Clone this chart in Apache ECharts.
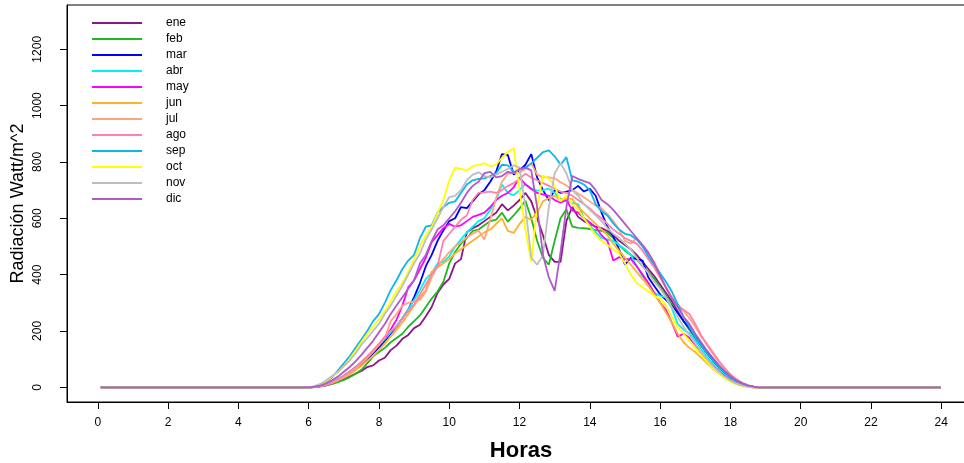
<!DOCTYPE html>
<html><head><meta charset="utf-8">
<script src="https://cdn.jsdelivr.net/npm/echarts@6/dist/echarts.min.js"></script>
<style>html,body{margin:0;padding:0;background:#fff}#c{width:964px;height:463px}</style>
</head><body><div id="c"></div>
<script>
// sample times, minutes of the day
const minutos = [5,
 360,370,380,390,400,410,420,430,440,450,460,470,480,490,500,510,520,530,
 540,550,560,570,580,590,600,610,620,630,640,650,660,670,680,690,700,710,
 720,730,740,750,760,770,780,790,800,810,820,830,840,850,860,870,880,890,
 900,910,920,930,940,950,960,970,980,990,1000,1010,1020,1030,1040,1050,1060,1070,
 1080,1090,1100,1110,1120,1130,1140,
 1439];
const meses = ['ene','feb','mar','abr','may','jun','jul','ago','sep','oct','nov','dic'];
const colores = ['#8B168B','#1CBA1C','#0000FF','#00F2F2','#FF00FF','#FFB02E','#FFA57E','#FF82AB','#0DB5EE','#FFFF00','#BEBEBE','#B05AC8'];
const ticksX = [0,2,4,6,8,10,12,14,16,18,20,22,24];
const ticksY = [0,200,400,600,800,1000,1200];

const ene = [0,
 0,1,3,7,13,20, 28,38,48,58,72,78, 95,105,132,148,172,186, 210,222,252,285,335,365,
 385,440,455,550,565,575, 590,605,620,650,628,645, 665,690,660,600,540,470, 445,445,590,640,605,590,
 580,570,565,555,540,520, 505,490,470,445,420,395, 365,335,305,270,235,205, 175,148,120,95,72,52,
 36,22,12,5,1,0, 0,
 0];
const feb = [0,
 0,1,3,7,12,18, 26,36,48,62,85,110, 125,140,160,175,190,215, 235,255,285,315,340,375,
 440,480,510,530,555,560, 575,590,595,620,588,610, 635,662,600,520,460,435, 520,600,632,570,566,565,
 562,558,555,548,530,505, 485,470,455,430,410,385, 355,325,295,265,235,205, 178,150,122,98,76,56,
 40,26,15,7,2,0, 0,
 0];
const mar = [0,
 0,1,4,9,16,25, 36,50,65,82,100,120, 142,165,190,215,245,275, 320,370,430,470,520,557,
 590,600,640,636,660,685, 700,730,765,828,825,755, 770,790,828,745,700,664, 700,690,695,700,715,695,
 705,680,620,570,535,490, 435,460,455,450,390,360, 330,310,290,265,235,210, 180,155,125,98,72,52,
 36,22,12,5,1,0, 0,
 0];
const abr = [0,
 0,2,6,12,20,30, 42,56,72,90,110,130, 150,172,195,218,245,275, 310,345,385,405,440,445,
 465,500,525,550,570,590, 600,630,665,720,690,682, 700,722,705,698,700,705, 690,670,662,655,650,600,
 575,550,530,525,520,505, 490,470,430,395,370,335, 325,318,280,225,205,192, 165,135,108,84,62,44,
 29,17,8,3,0,0, 0,
 0];
const may = [0,
 0,2,5,10,18,28, 40,54,70,88,108,128, 150,175,205,240,290,355, 380,420,460,515,540,565,
 580,570,575,590,605,612, 620,640,665,680,690,710, 745,720,705,690,685,680, 665,655,665,628,620,600,
 585,568,540,520,450,462, 455,455,430,400,370,335, 300,275,230,180,190,175, 150,122,98,76,56,40,
 26,15,7,2,0,0, 0,
 0];
const jun = [0,
 0,1,4,9,16,24, 34,46,60,76,94,112, 132,155,180,205,230,260, 290,320,345,410,425,440,
 455,475,490,505,520,535, 550,560,580,600,555,548, 580,605,595,620,660,672, 680,665,670,668,640,620,
 600,580,560,540,510,485, 460,435,410,385,360,330, 300,265,230,190,160,140, 125,105,85,66,50,36,
 24,14,7,2,0,0, 0,
 0];
const jul = [0,
 0,1,4,9,16,25, 36,50,66,84,104,126, 150,175,235,260,290,300, 305,310,340,390,430,455,
 480,500,515,533,545,557, 525,595,672,730,758,760, 762,775,795,755,746,745, 742,728,717,700,688,675,
 660,645,635,615,590,560, 520,510,530,505,475,445, 400,350,320,295,270,245, 215,180,155,125,95,68,
 45,28,15,7,2,0, 0,
 0];
const ago = [0,
 0,2,5,11,19,29, 41,55,72,90,110,132, 155,180,200,215,245,270, 295,330,365,400,430,520,
 545,570,595,610,665,690, 692,695,690,700,715,725, 740,758,745,735,725,715, 705,695,690,680,665,650,
 635,615,600,580,560,545, 530,520,510,485,455,425, 390,355,320,290,275,260, 225,185,150,120,92,68,
 46,29,16,7,2,0, 0,
 0];
const sep = [0,
 0,2,8,20,35,60, 85,110,140,170,200,235, 260,300,345,380,420,450, 470,530,570,575,620,640,
 655,660,690,720,735,740, 742,750,760,790,788,765, 770,780,795,815,835,841, 820,790,817,735,730,720,
 700,650,625,610,582,560, 545,540,525,500,465,435, 405,375,340,295,250,215, 178,150,120,96,72,52,
 35,22,12,6,2,0, 0,
 0];
const oct = [0,
 0,3,10,22,38,55, 75,100,130,160,190,215, 240,270,305,340,370,410, 455,500,540,570,618,665,
 735,780,775,770,785,790, 795,785,790,815,835,850, 700,560,445,640,752,740, 715,660,680,650,630,600,
 570,540,520,505,490,475, 440,400,370,355,340,325, 315,290,250,215,190,165, 140,115,90,68,50,33,
 20,10,4,1,0,0, 0,
 0];
const nov = [0,
 0,4,12,25,40,55, 75,95,120,150,175,200, 225,260,290,325,360,400, 440,475,525,560,600,640,
 675,680,700,735,755,763, 750,745,755,765,775,788, 780,640,460,435,470,640, 760,795,760,700,680,650,
 630,610,590,565,545,530, 510,490,460,430,405,375, 350,320,285,250,215,185, 155,125,100,76,55,38,
 24,13,6,2,0,0, 0,
 0];
const dic = [0,
 0,2,6,14,25,38, 55,72,92,115,140,165, 195,225,260,290,320,350, 380,440,470,520,560,575,
 600,625,655,690,715,730, 760,765,745,750,765,760, 775,780,770,640,470,390, 342,480,640,750,740,732,
 725,700,665,650,630,605, 580,555,530,505,478,440, 395,355,315,285,250,225, 190,160,130,105,80,58,
 40,25,14,6,2,0, 0,
 0];

const valores = [ene,feb,mar,abr,may,jun,jul,ago,sep,oct,nov,dic];
const FONT = "'Liberation Sans', Arial, Helvetica, sans-serif";

const chart = echarts.init(document.getElementById('c'), null, {renderer:'canvas'});
const series = meses.map((m,i)=>({
  name:m, type:'line', symbol:'none', showSymbol:false,
  data: valores[i].map((v,k)=>[minutos[k]/60, v]),
  lineStyle:{color:colores[i], width:1.8},
  itemStyle:{color:colores[i]},
  z: 2+i
}));
chart.setOption({
  animation:false,
  backgroundColor:'#ffffff',
  grid:{left:67, top:5, width:908, height:397, containLabel:false, outerBoundsMode:'none',
    show:true, borderColor:'#000', borderWidth:1, backgroundColor:'transparent'},
  legend:{
    orient:'vertical', left:92, top:16, padding:0, itemWidth:50, itemHeight:2, itemGap:2,
    icon:'rect',
    data:meses,
    textStyle:{fontFamily:FONT, fontSize:12, color:'#000', padding:[0,0,0,19], lineHeight:14}
  },
  xAxis:{
    type:'value', min:-0.877, max:24.96,
    axisLine:{show:true, onZero:false, lineStyle:{color:'#000', width:1}},
    axisTick:{show:true, inside:false, length:7, customValues:ticksX, lineStyle:{color:'#000'}},
    axisLabel:{customValues:ticksX, fontFamily:FONT, fontSize:12, color:'#000', margin:15},
    splitLine:{show:false},
    name:'Horas', nameLocation:'middle', nameGap:38, nameMoveOverlap:false,
    nameTextStyle:{fontFamily:FONT, fontSize:22, fontWeight:'bold', color:'#000'}
  },
  yAxis:{
    type:'value', min:-52.2, max:1357.2,
    axisLine:{show:true, onZero:false, lineStyle:{color:'#000', width:1}},
    axisTick:{show:true, inside:false, length:7, customValues:ticksY, lineStyle:{color:'#000'}},
    axisLabel:{customValues:ticksY, rotate:90, fontFamily:FONT, fontSize:12, color:'#000', margin:23,
      formatter:(v)=>String(v)},
    splitLine:{show:false},
    name:'Radiación Watt/m^2', nameLocation:'middle', nameGap:40, nameMoveOverlap:false,
    nameTextStyle:{fontFamily:FONT, fontSize:18, color:'#000'}
  },
  series: series
});
</script></body></html>
